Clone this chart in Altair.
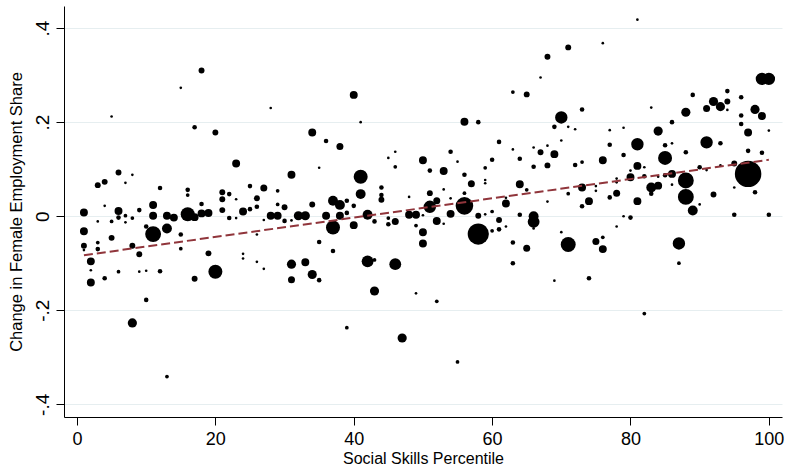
import altair as alt
import pandas as pd

# Social skills percentile (x), change in female employment share (y), weight (marker area)
x_pct = [18, 15, 5, 17, 20, 23, 6, 8, 3, 4, 7, 12, 16, 16, 21, 21, 22, 23, 4, 11, 18, 1, 6, 9, 16, 18, 19, 21, 24, 11,
         13, 14, 6, 7, 7, 8, 3, 5, 17, 22, 23, 1, 5, 10, 11, 13, 15, 1, 1, 3, 3, 8, 9, 15, 19, 2, 2, 6, 9, 10,
         12, 20, 17, 2, 4, 10, 8, 13, 24,
         40, 28, 41, 34, 36, 38, 45, 46, 46, 50, 35, 31, 41, 25, 27, 29, 41, 44, 44, 44, 48, 26, 26, 25, 30, 29,
         34, 37, 38, 39, 39, 40, 27, 28, 29, 30, 31, 32, 33, 36, 38, 37, 40, 42, 43, 45, 45, 46, 48, 49, 50, 49,
         50, 50, 26, 35, 37, 24, 26, 27, 31, 33, 31, 34, 35, 42, 43, 46, 43, 49, 39, 47,
         71, 68, 76, 67, 63, 65, 73, 70, 69, 71, 72, 56, 58, 61, 63, 66, 68, 70, 67, 69, 54, 55, 60, 64, 66, 68,
         72, 73, 76, 51, 53, 56, 59, 57, 59, 59, 64, 65, 51, 53, 56, 54, 52, 51, 56, 54, 58, 60, 62, 62, 64, 66,
         68, 71, 73, 73, 74, 75, 75, 52, 53, 58, 60, 61, 61, 62, 63, 65, 66, 66, 63, 69, 70, 71, 74, 75, 76, 76,
         52, 55, 59,
         81, 99, 100, 89, 94, 96, 83, 88, 91, 92, 93, 94, 94, 96, 98, 99, 96, 97, 100, 77, 79, 86, 84, 77, 81, 85,
         86, 91, 93, 79, 85, 88, 97, 99, 81, 82, 80, 80, 78, 78, 82, 84, 86, 85, 88, 88, 90, 91, 93, 95, 97, 95,
         98, 83, 84, 83, 86, 77, 78, 81, 92, 90, 89, 95, 100, 79, 80, 78, 87, 87, 82]

y_share = [0.310, 0.273, 0.212, 0.189, 0.178, 0.112, 0.093, 0.088, 0.066, 0.073, 0.071, 0.060, 0.056, 0.045, 0.051,
           0.036, 0.047, 0.036, 0.022, 0.024, 0.026, 0.008, 0.011, 0.013, 0.004, 0.006, 0.007, 0.013, 0.010, 0.001,
           0.001, -0.003, -0.003, 0.001, -0.013, -0.004, -0.011, -0.011, -0.002, -0.004, -0.004, -0.032, -0.046,
           -0.022, -0.038, -0.026, -0.039, -0.063, -0.072, -0.056, -0.070, -0.063, -0.081, -0.069, -0.079, -0.096,
           -0.115, -0.118, -0.118, -0.116, -0.117, -0.118, -0.133, -0.141, -0.132, -0.178, -0.227, -0.341, -0.080,
           0.258, 0.230, 0.200, 0.178, 0.160, 0.148, 0.124, 0.137, 0.105, 0.119, 0.103, 0.088, 0.084, 0.064, 0.060,
           0.054, 0.047, 0.061, 0.045, 0.035, 0.041, 0.038, 0.020, 0.015, 0.019, 0.025, 0.025, 0.033, 0.024, 0.033,
           0.007, 0.022, -0.008, 0.001, 0.001, -0.010, -0.009, 0.001, 0.001, 0.001, 0.001, -0.024, -0.019, 0.003,
           -0.011, -0.004, -0.017, -0.011, 0.003, 0.003, 0.002, -0.020, -0.034, -0.058, -0.039, -0.055, -0.074,
           -0.090, -0.097, -0.112, -0.102, -0.098, -0.135, -0.124, -0.136, -0.096, -0.093, -0.102, -0.159, -0.164,
           -0.237, -0.259,
           0.359, 0.339, 0.368, 0.295, 0.264, 0.259, 0.227, 0.210, 0.190, 0.190, 0.185, 0.201, 0.200, 0.158, 0.142,
           0.146, 0.150, 0.161, 0.136, 0.132, 0.137, 0.116, 0.120, 0.122, 0.105, 0.108, 0.109, 0.115, 0.119, 0.097,
           0.096, 0.088, 0.103, 0.069, 0.077, 0.070, 0.068, 0.056, 0.049, 0.057, 0.049, 0.038, 0.033, 0.020, 0.022,
           0.005, 0.001, 0.010, 0.027, 0.039, 0.003, 0.000, 0.031, 0.048, 0.061, 0.021, 0.032, 0.064, 0.054, -0.010,
           -0.016, -0.038, -0.031, -0.008, -0.028, -0.022, -0.056, -0.068, -0.012, -0.026, -0.100, -0.137, -0.034,
           -0.060, -0.132, -0.054, -0.045, -0.070, -0.181, -0.310, 0.004,
           0.418, 0.292, 0.292, 0.258, 0.266, 0.253, 0.231, 0.221, 0.229, 0.244, 0.233, 0.244, 0.226, 0.214, 0.227,
           0.213, 0.196, 0.178, 0.182, 0.183, 0.188, 0.200, 0.181, 0.152, 0.153, 0.151, 0.155, 0.157, 0.155, 0.130,
           0.124, 0.136, 0.139, 0.135, 0.107, 0.104, 0.097, 0.083, 0.080, 0.072, 0.085, 0.084, 0.090, 0.087, 0.076,
           0.041, 0.104, 0.098, 0.108, 0.112, 0.090, 0.061, 0.051, 0.061, 0.065, 0.048, 0.067, 0.040, 0.049, 0.032,
           0.046, 0.025, 0.012, 0.003, 0.003, 0.000, -0.003, -0.022, -0.058, -0.100, -0.207]

weight = [5, 1, 1, 3, 5, 9, 5, 1, 5, 5, 1, 3, 3, 2, 5, 5, 3, 1, 1, 9, 3, 9, 9, 3, 28, 9, 9, 5, 9, 9,
          9, 9, 3, 2, 1, 2, 1, 2, 9, 3, 1, 9, 5, 3, 36, 14, 3, 5, 1, 2, 3, 5, 5, 2, 5, 9, 1, 2, 1, 1,
          3, 28, 5, 9, 3, 3, 12, 2, 1,
          9, 1, 1, 9, 3, 7, 1, 1, 2, 9, 1, 9, 28, 3, 7, 2, 14, 3, 3, 5, 1, 5, 3, 3, 5, 2,
          5, 14, 14, 3, 3, 3, 1, 9, 9, 3, 1, 12, 12, 9, 9, 28, 9, 14, 3, 2, 3, 7, 9, 9, 1, 2,
          9, 9, 1, 3, 3, 1, 1, 1, 12, 9, 7, 12, 3, 20, 2, 20, 12, 1, 2, 12,
          5, 5, 1, 1, 2, 5, 3, 22, 3, 1, 1, 9, 3, 3, 1, 1, 1, 1, 5, 9, 3, 1, 3, 3, 3, 5,
          3, 2, 9, 3, 9, 3, 2, 7, 1, 1, 9, 2, 5, 1, 2, 1, 7, 22, 44, 9, 5, 2, 9, 1, 3, 14,
          1, 2, 9, 3, 9, 1, 1, 9, 1, 64, 2, 5, 3, 1, 3, 7, 20, 1, 3, 1, 1, 32, 3, 7, 2, 9,
          2, 2, 1,
          1, 22, 22, 3, 3, 3, 1, 12, 7, 12, 12, 5, 1, 3, 12, 9, 3, 9, 1, 1, 1, 3, 12, 3, 22, 3,
          1, 22, 3, 3, 28, 3, 3, 3, 9, 1, 1, 9, 1, 1, 3, 1, 9, 3, 36, 36, 3, 1, 1, 5, 100, 1,
          3, 14, 9, 3, 1, 3, 7, 9, 5, 1, 14, 3, 3, 1, 3, 1, 22, 2, 2]

# Weighted linear fit (dashed line) endpoints
fit_x = [1, 100]
fit_y = [-0.083, 0.120]

df = pd.DataFrame({"x": x_pct, "y": y_share, "w": weight})
fit = pd.DataFrame({"x": fit_x, "y": fit_y})

xscale = alt.Scale(domain=[-1.88, 101.9], nice=False, zero=False)
yscale = alt.Scale(domain=[-0.427, 0.447], nice=False, zero=False)

font = "Liberation Sans"

pts = alt.Chart(df).mark_circle(color="black", opacity=1).encode(
    x=alt.X("x:Q", scale=xscale,
            axis=alt.Axis(title="Social Skills Percentile", values=[0, 20, 40, 60, 80, 100],
                          grid=False, domainColor="black", domainWidth=1, tickColor="black",
                          tickSize=8, tickWidth=1, labelFontSize=18, labelPadding=5,
                          labelFont=font, labelColor="black", titleFont=font,
                          titleFontSize=16, titleFontWeight="normal", titleColor="black",
                          titleY=46, titleBaseline="alphabetic")),
    y=alt.Y("y:Q", scale=yscale,
            axis=alt.Axis(title="Change in Female Employment Share", values=[-0.4, -0.2, 0, 0.2, 0.4],
                          labelExpr="datum.value == 0 ? '0' : (datum.value < 0 ? '-' : '') + '.' + toString(round(abs(datum.value)*10))",
                          grid=True, gridColor="#e6eef0", gridWidth=1,
                          domainColor="black", domainWidth=1, tickColor="black",
                          tickSize=8, tickWidth=1, labelFontSize=19, labelPadding=8,
                          labelAngle=-90, labelAlign="center", labelBaseline="alphabetic",
                          labelFont=font, labelColor="black", titleFont=font,
                          titleFontSize=16.5, titleFontWeight="normal", titleColor="black",
                          titleAngle=-90, titleX=-43, titleBaseline="alphabetic")),
    size=alt.Size("w:Q", scale=alt.Scale(domain=[0, 100], range=[0, 700], zero=True), legend=None),
)

line = alt.Chart(fit).mark_line(color="#90353b", strokeWidth=2, strokeDash=[9, 4]).encode(
    x=alt.X("x:Q", scale=xscale),
    y=alt.Y("y:Q", scale=yscale),
)

chart = (pts + line).properties(
    width=718, height=411,
    padding={"left": 64, "top": 6, "right": 6, "bottom": 49},
    autosize="none",
    background="white",
).configure_view(stroke=None)

chart.save("out.html", embed_options={"renderer": "svg", "actions": False})
